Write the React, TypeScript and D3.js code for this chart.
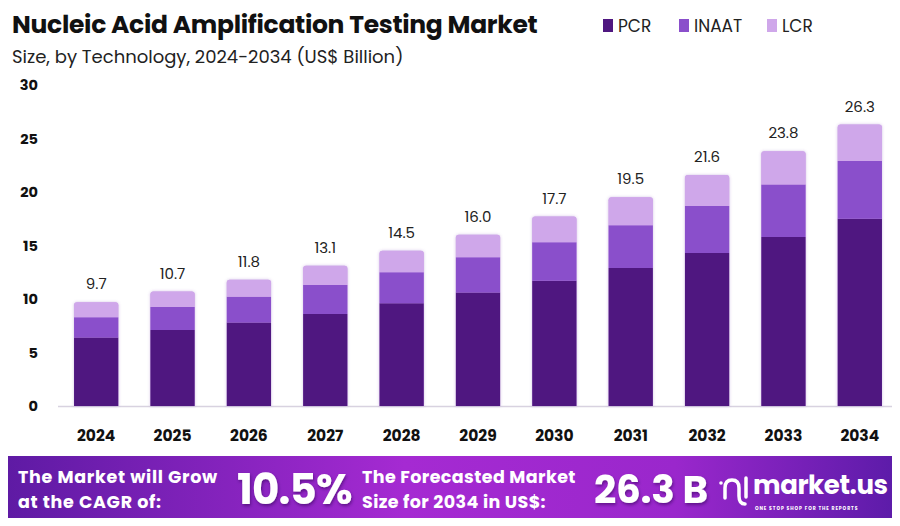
import React, { useEffect, useRef } from 'react';
import * as d3 from 'd3';

const years = ['2024', '2025', '2026', '2027', '2028', '2029', '2030', '2031', '2032', '2033', '2034'];
const pcr = [6.4, 7.1, 7.8, 8.6, 9.6, 10.6, 11.7, 12.9, 14.3, 15.8, 17.5];
const inaat = [1.9, 2.15, 2.4, 2.7, 2.9, 3.3, 3.6, 4.0, 4.4, 4.9, 5.4];
const lcr = [1.4, 1.45, 1.6, 1.8, 2.0, 2.1, 2.4, 2.6, 2.9, 3.1, 3.4];
const totals = [9.7, 10.7, 11.8, 13.1, 14.5, 16.0, 17.7, 19.5, 21.6, 23.8, 26.3];
const seriesNames = ['PCR', 'INAAT', 'LCR'];
const colors = ['#4f1780', '#8a4fcb', '#cfa7ea'];
const yTicks = [0, 5, 10, 15, 20, 25, 30];

const W = 900;
const H = 526;
const font = 'Poppins, Inter, "Noto Sans", sans-serif';

export default function App() {
  const svgRef = useRef<SVGSVGElement>(null);

  useEffect(() => {
    if (!svgRef.current) return;
    const svg = d3.select(svgRef.current);
    svg.selectAll('*').remove();

    const defs = svg.append('defs');
    const grad = defs.append('linearGradient').attr('id', 'foot').attr('x1', '0').attr('x2', '1');
    grad.append('stop').attr('offset', '0%').attr('stop-color', '#5d1aa3');
    grad.append('stop').attr('offset', '45%').attr('stop-color', '#a52ad2');
    grad.append('stop').attr('offset', '75%').attr('stop-color', '#9a27cc');
    grad.append('stop').attr('offset', '100%').attr('stop-color', '#5b1ba8');
    const shadow = defs.append('filter').attr('id', 'sh').attr('x', '-20%').attr('y', '-20%').attr('width', '140%').attr('height', '140%');
    shadow.append('feDropShadow').attr('dx', 0).attr('dy', 0).attr('stdDeviation', 1.5)
      .attr('flood-color', '#7a3fb0').attr('flood-opacity', 0.35);
    const tshadow = defs.append('filter').attr('id', 'tsh');
    tshadow.append('feDropShadow').attr('dx', 1).attr('dy', 2).attr('stdDeviation', 1.5)
      .attr('flood-color', '#2a0050').attr('flood-opacity', 0.5);

    svg.append('rect').attr('width', W).attr('height', H).attr('fill', '#fff');
    // frame
    svg.append('rect').attr('x', 1).attr('y', 1).attr('width', W - 6).attr('height', H - 4)
      .attr('fill', 'none').attr('stroke', '#8a3fb8').attr('stroke-width', 1.5);

    // title
    svg.append('text').attr('x', 12).attr('y', 33).attr('font-family', font).attr('font-weight', 700)
      .attr('font-size', 25).attr('fill', '#111').attr('letter-spacing', -0.3)
      .text('Nucleic Acid Amplification Testing Market');
    svg.append('text').attr('x', 12).attr('y', 63).attr('font-family', font)
      .attr('font-size', 18).attr('fill', '#222')
      .text('Size, by Technology, 2024-2034 (US$ Billion)');

    // legend
    const legendX = [603, 679, 767];
    seriesNames.forEach((n, i) => {
      svg.append('rect').attr('x', legendX[i]).attr('y', 19).attr('width', 10).attr('height', 13).attr('fill', colors[i]);
      svg.append('text').attr('x', legendX[i] + 15).attr('y', 32).attr('font-family', font)
        .attr('font-size', 17).attr('fill', '#222').text(n);
    });

    const x = d3.scaleBand().domain(years).range([58, 898]).paddingInner(0.42).paddingOuter(0.21);
    const y = d3.scaleLinear().domain([0, 30]).range([406, 85]);

    // y axis labels
    svg.append('g').selectAll('text').data(yTicks).join('text')
      .attr('x', 38).attr('y', d => y(d)).attr('dy', '0.36em').attr('text-anchor', 'end')
      .attr('font-family', font).attr('font-weight', 700).attr('font-size', 14.5).attr('fill', '#111')
      .text(d => d);

    // baseline
    svg.append('line').attr('x1', 58).attr('x2', 895).attr('y1', y(0) + 0.5).attr('y2', y(0) + 0.5)
      .attr('stroke', '#d8d2e0').attr('stroke-width', 1.5);

    const rows = years.map((yr, i) => ({ year: yr, PCR: pcr[i], INAAT: inaat[i], LCR: lcr[i] }));
    const stacked = d3.stack<any>().keys(seriesNames)(rows);

    const bw = x.bandwidth();
    const r = 3;
    // shadow outline of whole bar
    svg.append('g').selectAll('path').data(rows).join('path')
      .attr('filter', 'url(#sh)')
      .attr('fill', colors[2])
      .attr('d', (d, i) => {
        const x0 = x(d.year)!;
        const top = y(pcr[i] + inaat[i] + lcr[i]);
        const b = y(0);
        return `M${x0},${b}V${top + r}Q${x0},${top} ${x0 + r},${top}H${x0 + bw - r}Q${x0 + bw},${top} ${x0 + bw},${top + r}V${b}Z`;
      });

    stacked.forEach((layer, li) => {
      svg.append('g').selectAll('path').data(layer).join('path')
        .attr('fill', colors[li])
        .attr('d', d => {
          const x0 = x((d.data as any).year)!;
          const top = y(d[1]);
          const bot = y(d[0]);
          if (li === 2) {
            return `M${x0},${bot}V${top + r}Q${x0},${top} ${x0 + r},${top}H${x0 + bw - r}Q${x0 + bw},${top} ${x0 + bw},${top + r}V${bot}Z`;
          }
          return `M${x0},${bot}V${top}H${x0 + bw}V${bot}Z`;
        });
    });

    // totals
    svg.append('g').selectAll('text').data(totals).join('text')
      .attr('x', (d, i) => x(years[i])! + bw / 2)
      .attr('y', (d, i) => y(pcr[i] + inaat[i] + lcr[i]) - 13)
      .attr('text-anchor', 'middle').attr('font-family', font).attr('font-size', 15).attr('fill', '#222')
      .text(d => d.toFixed(1));

    // x labels
    svg.append('g').selectAll('text').data(years).join('text')
      .attr('x', d => x(d)! + bw / 2).attr('y', 441).attr('text-anchor', 'middle')
      .attr('font-family', font).attr('font-weight', 700).attr('font-size', 15.5).attr('fill', '#111')
      .text(d => d);

    // footer
    svg.append('rect').attr('x', 0).attr('y', 456).attr('width', W).attr('height', 68).attr('fill', 'url(#foot)');
    const ft = svg.append('g').attr('font-family', font).attr('font-weight', 700).attr('fill', '#fff');
    const twoLine = (x0: number, a: string, b: string, ls: number) => {
      ft.append('text').attr('x', x0).attr('y', 483).attr('font-size', 17.5).attr('letter-spacing', ls).text(a);
      ft.append('text').attr('x', x0).attr('y', 508).attr('font-size', 17.5).attr('letter-spacing', ls).text(b);
    };
    twoLine(18, 'The Market will Grow', 'at the CAGR of:', 0.7);
    ft.append('text').attr('x', 237).attr('y', 504).attr('font-size', 42).attr('letter-spacing', -0.8)
      .attr('filter', 'url(#tsh)').text('10.5%');
    twoLine(362, 'The Forecasted Market', 'Size for 2034 in US$:', 0.4);
    ft.append('text').attr('x', 594).attr('y', 503).attr('font-size', 39).attr('letter-spacing', -0.3)
      .attr('filter', 'url(#tsh)').text('26.3 B');

    // logo glyph
    const lg = svg.append('g').attr('fill', 'none').attr('stroke', '#fff').attr('stroke-width', 3.5).attr('stroke-linecap', 'round');
    lg.append('path').attr('d', 'M725,498 V488 Q725,480 732,480 Q739,480 739,488 V496 Q739,504 745,504');
    lg.append('line').attr('x1', 746).attr('x2', 746).attr('y1', 478).attr('y2', 497);
    svg.append('circle').attr('cx', 721).attr('cy', 483).attr('r', 1.8).attr('fill', '#fff');
    ft.append('text').attr('x', 753).attr('y', 494).attr('font-size', 26).attr('letter-spacing', -0.4).text('market.us');
    ft.append('text').attr('x', 755).attr('y', 510).attr('font-size', 4.6).attr('letter-spacing', 0.9)
      .text('ONE STOP SHOP FOR THE REPORTS');
  }, []);

  return (
    <div style={{ width: W, height: H, margin: -8 }}>
      <svg ref={svgRef} width={W} height={H} viewBox={`0 0 ${W} ${H}`} style={{ display: 'block' }} />
    </div>
  );
}
